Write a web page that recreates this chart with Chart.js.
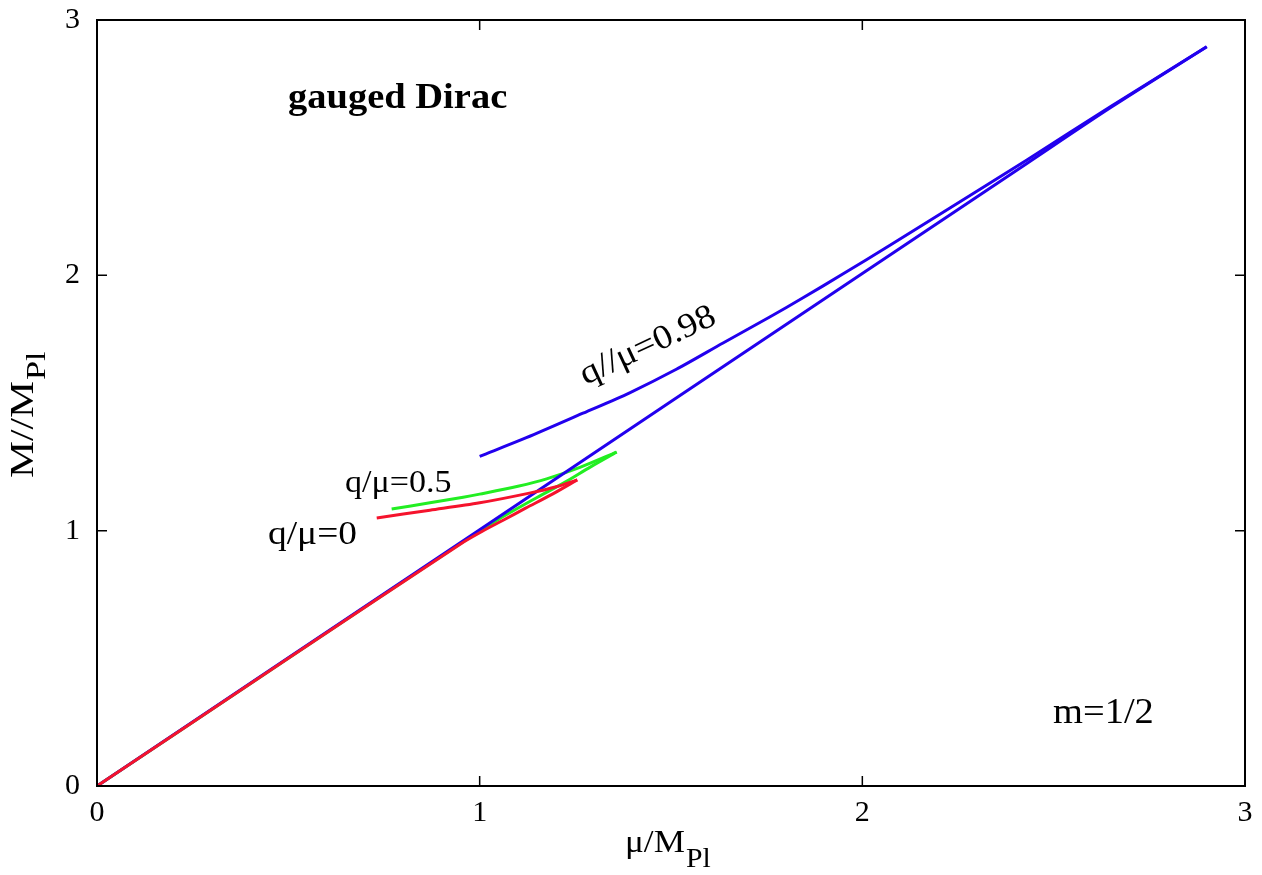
<!DOCTYPE html>
<html>
<head>
<meta charset="utf-8">
<title>gauged Dirac</title>
<script src="https://cdn.jsdelivr.net/npm/chart.js@4.4.1/dist/chart.umd.min.js"></script>
<style>
  html, body { margin: 0; padding: 0; background: #fff; }
  canvas { display: block; }
</style>
</head>
<body>
<canvas id="chart" width="1262" height="875"></canvas>
<script>
"use strict";

const xTicks = [0, 1, 2, 3];
const yTicks = [0, 1, 2, 3];

// q/mu = 0 (red), lower branch and upper branch, both running left to right up to the cusp
const muQ0Low = [0, 0.5, 0.95, 1.0, 1.06, 1.12, 1.19, 1.255];
const mQ0Low  = [0, 0.5, 0.948, 0.992, 1.04, 1.088, 1.143, 1.199];
const muQ0Up  = [0.731, 0.87, 1.0, 1.13, 1.2, 1.255];
const mQ0Up   = [1.05, 1.08, 1.109, 1.147, 1.172, 1.199];

// q/mu = 0.5 (green)
const muQ05Low = [0, 0.5, 0.95, 1.05, 1.15, 1.22, 1.29, 1.358];
const mQ05Low  = [0, 0.5, 0.95, 1.045, 1.13, 1.187, 1.25, 1.308];
const muQ05Up  = [0.77, 0.87, 0.957, 1.0, 1.1, 1.175, 1.262, 1.358];
const mQ05Up   = [1.085, 1.109, 1.131, 1.143, 1.174, 1.203, 1.248, 1.308];

// q/mu = 0.98 (blue)
const muQ098Low = [0, 1.0, 2.0, 2.43, 2.65, 2.9];
const mQ098Low  = [0, 1.004, 2.007, 2.438, 2.658, 2.895];
const muQ098Up  = [1.0, 1.122, 1.27, 1.392, 1.514, 1.636, 1.758, 1.845, 1.95, 2.067, 2.229, 2.43, 2.65, 2.9];
const mQ098Up   = [1.291, 1.364, 1.46, 1.54, 1.632, 1.735, 1.837, 1.912, 2.006, 2.113, 2.264, 2.452, 2.662, 2.895];

const RED = "#f5132d";
const GREEN = "#22ee22";
const BLUE = "#2200ee";
const SERIF = "'Liberation Serif', 'Times New Roman', serif";

function toPoints(xs, ys) {
  const pts = [];
  for (let i = 0; i < xs.length; i++) {
    pts.push({ x: xs[i], y: ys[i] });
  }
  return pts;
}

function curve(xs, ys, color) {
  return {
    data: toPoints(xs, ys),
    showLine: true,
    borderColor: color,
    borderWidth: 3,
    pointRadius: 0,
    tension: 0.3,
    fill: false
  };
}

// first dataset is painted last, so red sits on top like in the plot
const datasets = [
  curve(muQ0Low, mQ0Low, RED),
  curve(muQ0Up, mQ0Up, RED),
  curve(muQ098Low, mQ098Low, BLUE),
  curve(muQ098Up, mQ098Up, BLUE),
  curve(muQ05Low, mQ05Low, GREEN),
  curve(muQ05Up, mQ05Up, GREEN)
];

function label(ctx, text, x, y, size, opts) {
  opts = opts || {};
  ctx.save();
  ctx.translate(x, y);
  if (opts.rot) ctx.rotate(opts.rot);
  ctx.scale(opts.sx || 1.1, 1);
  ctx.font = (opts.bold ? "bold " : "") + size + "px " + SERIF;
  ctx.fillStyle = "#000";
  ctx.textAlign = opts.align || "left";
  ctx.textBaseline = opts.baseline || "alphabetic";
  ctx.fillText(text, 0, 0);
  ctx.restore();
}

// main text followed by a lowered, smaller subscript
function labelSub(ctx, main, sub, x, y, size, subSize, drop, rot, sx) {
  ctx.save();
  ctx.translate(x, y);
  if (rot) ctx.rotate(rot);
  ctx.scale(sx, 1);
  ctx.fillStyle = "#000";
  ctx.textBaseline = "alphabetic";
  ctx.textAlign = "left";
  ctx.font = size + "px " + SERIF;
  ctx.fillText(main, 0, 0);
  const w = ctx.measureText(main).width;
  ctx.font = subSize + "px " + SERIF;
  ctx.fillText(sub, w + 1, drop);
  ctx.restore();
}

const framePlugin = {
  id: "frame",
  afterDraw(chart) {
    const ctx = chart.ctx;
    const area = chart.chartArea;
    const xs = chart.scales.x;
    const ys = chart.scales.y;

    ctx.save();
    ctx.strokeStyle = "#000";
    ctx.lineWidth = 2;
    ctx.strokeRect(area.left, area.top, area.right - area.left, area.bottom - area.top);

    // inward ticks on all four sides
    ctx.lineWidth = 1.5;
    ctx.beginPath();
    xTicks.forEach(function (v) {
      const px = xs.getPixelForValue(v);
      ctx.moveTo(px, area.bottom);
      ctx.lineTo(px, area.bottom - 10);
      ctx.moveTo(px, area.top);
      ctx.lineTo(px, area.top + 10);
    });
    yTicks.forEach(function (v) {
      const py = ys.getPixelForValue(v);
      ctx.moveTo(area.left, py);
      ctx.lineTo(area.left + 10, py);
      ctx.moveTo(area.right, py);
      ctx.lineTo(area.right - 10, py);
    });
    ctx.stroke();
    ctx.restore();

    // axis titles
    labelSub(ctx, "\u03bc/M", "Pl", 625, 852, 32, 27, 15, 0, 1.1);
    labelSub(ctx, "M//M", "Pl", 33, 478, 34, 28, 12, -Math.PI / 2, 1.22);

    // annotations
    label(ctx, "gauged Dirac", 288, 108, 35, { bold: true });
    label(ctx, "q/\u03bc=0", 268, 544, 34);
    label(ctx, "q/\u03bc=0.5", 345, 492, 31);
    label(ctx, "q//\u03bc=0.98", 648, 346, 34, { rot: -25 * Math.PI / 180, align: "center", baseline: "middle" });
    label(ctx, "m=1/2", 1053, 723, 35);
  }
};

const tickFont = { family: SERIF, size: 30 };

const chart = new Chart(document.getElementById("chart"), {
  type: "scatter",
  data: { datasets: datasets },
  options: {
    responsive: false,
    animation: false,
    events: [],
    layout: { padding: { top: 20, right: 17, left: 0, bottom: 0 } },
    plugins: {
      legend: { display: false },
      tooltip: { enabled: false }
    },
    scales: {
      x: {
        type: "linear",
        min: 0,
        max: 3,
        ticks: { stepSize: 1, color: "#000", font: tickFont, padding: 9, maxRotation: 0 },
        grid: { display: false, drawTicks: false },
        border: { display: false },
        afterFit(s) {
          s.height = 89;
          s.paddingLeft = 0;
          s.paddingRight = 0;
        }
      },
      y: {
        type: "linear",
        min: 0,
        max: 3,
        ticks: { stepSize: 1, color: "#000", font: tickFont, padding: 17 },
        grid: { display: false, drawTicks: false },
        border: { display: false },
        afterFit(s) {
          s.width = 97;
          s.paddingTop = 0;
          s.paddingBottom = 0;
        }
      }
    }
  },
  plugins: [framePlugin]
});
</script>
</body>
</html>
